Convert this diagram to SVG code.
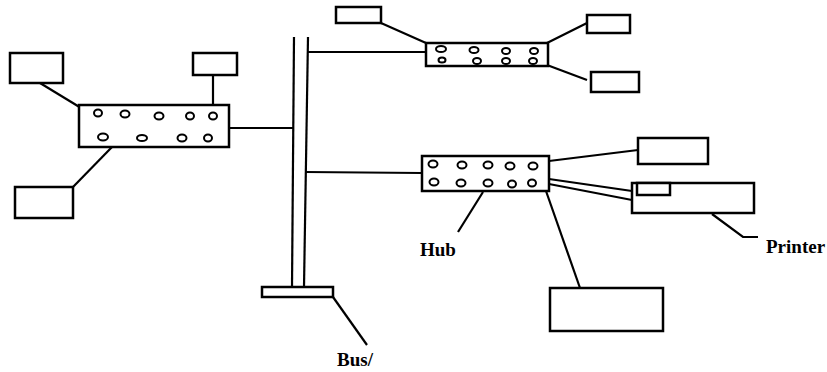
<svg xmlns="http://www.w3.org/2000/svg" width="827" height="372" viewBox="0 0 827 372">
<style>
.box{fill:#fff;stroke:#000;stroke-width:2.5}
.ln{fill:none;stroke:#000;stroke-width:2.2}
.port{fill:#fff;stroke:#000;stroke-width:2}
.lbl{font-family:"Liberation Serif",serif;font-weight:bold;font-size:19px;fill:#000}
</style>
<rect width="827" height="372" fill="#fff"/>
<g id="connectors">
<line class="ln" x1="40" y1="83" x2="86" y2="111"/>
<line class="ln" x1="213" y1="75" x2="213" y2="105"/>
<line class="ln" x1="73" y1="187" x2="112" y2="147"/>
<line class="ln" x1="229" y1="128" x2="293" y2="128"/>
<line class="ln" x1="308" y1="52" x2="426" y2="52"/>
<line class="ln" x1="381" y1="23" x2="426" y2="43"/>
<line class="ln" x1="547" y1="43" x2="587" y2="23"/>
<line class="ln" x1="547" y1="65" x2="587" y2="80"/>
<line class="ln" x1="305" y1="172" x2="422" y2="173"/>
<line class="ln" x1="549" y1="161" x2="638" y2="150"/>
<line class="ln" x1="549" y1="179" x2="632" y2="191"/>
<line class="ln" x1="549" y1="184" x2="632" y2="200"/>
<line class="ln" x1="546" y1="191" x2="580" y2="288"/>
<line class="ln" x1="483" y1="192" x2="458" y2="232"/>
<polyline class="ln" points="712,214 743,237 758,237"/>
<line class="ln" x1="333" y1="297" x2="367" y2="345"/>
</g>
<g id="bus">
<line class="ln" x1="294" y1="37" x2="292" y2="287" stroke-width="2.6"/>
<line class="ln" x1="308" y1="37" x2="304" y2="287" stroke-width="2.6"/>
<rect class="box" x="262" y="287" width="71" height="10"/>
<text class="lbl" x="337" y="366">Bus/</text>
</g>
<g id="hub-left">
<rect class="box" x="79" y="105" width="150" height="42"/>
<ellipse class="port" cx="98" cy="113" rx="4" ry="3.5"/>
<ellipse class="port" cx="125" cy="114" rx="4.5" ry="3.5"/>
<ellipse class="port" cx="159" cy="116" rx="4.5" ry="3.5"/>
<ellipse class="port" cx="190" cy="116" rx="4" ry="3.5"/>
<ellipse class="port" cx="213" cy="116" rx="4" ry="3.5"/>
<ellipse class="port" cx="103" cy="137" rx="5" ry="3.5"/>
<ellipse class="port" cx="142" cy="138" rx="5" ry="3"/>
<ellipse class="port" cx="182" cy="138" rx="4.5" ry="3.5"/>
<ellipse class="port" cx="208" cy="138" rx="4" ry="3.5"/>
</g>
<g id="pc-l1"><rect class="box" x="10" y="53" width="53" height="30"/></g>
<g id="pc-l2"><rect class="box" x="193" y="53" width="44" height="22"/></g>
<g id="pc-l3"><rect class="box" x="15" y="187" width="58" height="31"/></g>
<g id="hub-top">
<rect class="box" x="426" y="43" width="122" height="23"/>
<ellipse class="port" cx="441" cy="49" rx="5" ry="3"/>
<ellipse class="port" cx="474" cy="50" rx="4.5" ry="3"/>
<ellipse class="port" cx="506" cy="51" rx="4" ry="3"/>
<ellipse class="port" cx="534" cy="51" rx="4" ry="3"/>
<ellipse class="port" cx="442" cy="60" rx="3.5" ry="2.5"/>
<ellipse class="port" cx="477" cy="61" rx="4" ry="3"/>
<ellipse class="port" cx="506" cy="61" rx="4" ry="3"/>
<ellipse class="port" cx="533" cy="61" rx="4" ry="3"/>
</g>
<g id="pc-t1"><rect class="box" x="336" y="7" width="45" height="16"/></g>
<g id="pc-t2"><rect class="box" x="587" y="15" width="43" height="18"/></g>
<g id="pc-t3"><rect class="box" x="591" y="72" width="48" height="20"/></g>
<g id="hub-right">
<rect class="box" x="422" y="156" width="127" height="35"/>
<ellipse class="port" cx="433" cy="164" rx="4.5" ry="3.5"/>
<ellipse class="port" cx="462" cy="165" rx="4.5" ry="3.5"/>
<ellipse class="port" cx="488" cy="165" rx="4.5" ry="3.5"/>
<ellipse class="port" cx="510" cy="166" rx="4.5" ry="3.5"/>
<ellipse class="port" cx="533" cy="166" rx="4.5" ry="3.5"/>
<ellipse class="port" cx="434" cy="182" rx="4.5" ry="3.5"/>
<ellipse class="port" cx="461" cy="183" rx="4.5" ry="3.5"/>
<ellipse class="port" cx="488" cy="183" rx="4.5" ry="3.5"/>
<ellipse class="port" cx="512" cy="184" rx="4" ry="3.5"/>
<ellipse class="port" cx="532" cy="183" rx="4" ry="3.5"/>
<text class="lbl" x="420" y="256">Hub</text>
</g>
<g id="pc-r1"><rect class="box" x="638" y="138" width="70" height="26"/></g>
<g id="printer">
<rect class="box" x="632" y="183" width="122" height="30"/>
<rect class="box" x="637" y="183" width="33" height="12"/>
<text class="lbl" x="766" y="253">Printer</text>
</g>
<g id="pc-r2"><rect class="box" x="550" y="288" width="113" height="43"/></g>
</svg>
